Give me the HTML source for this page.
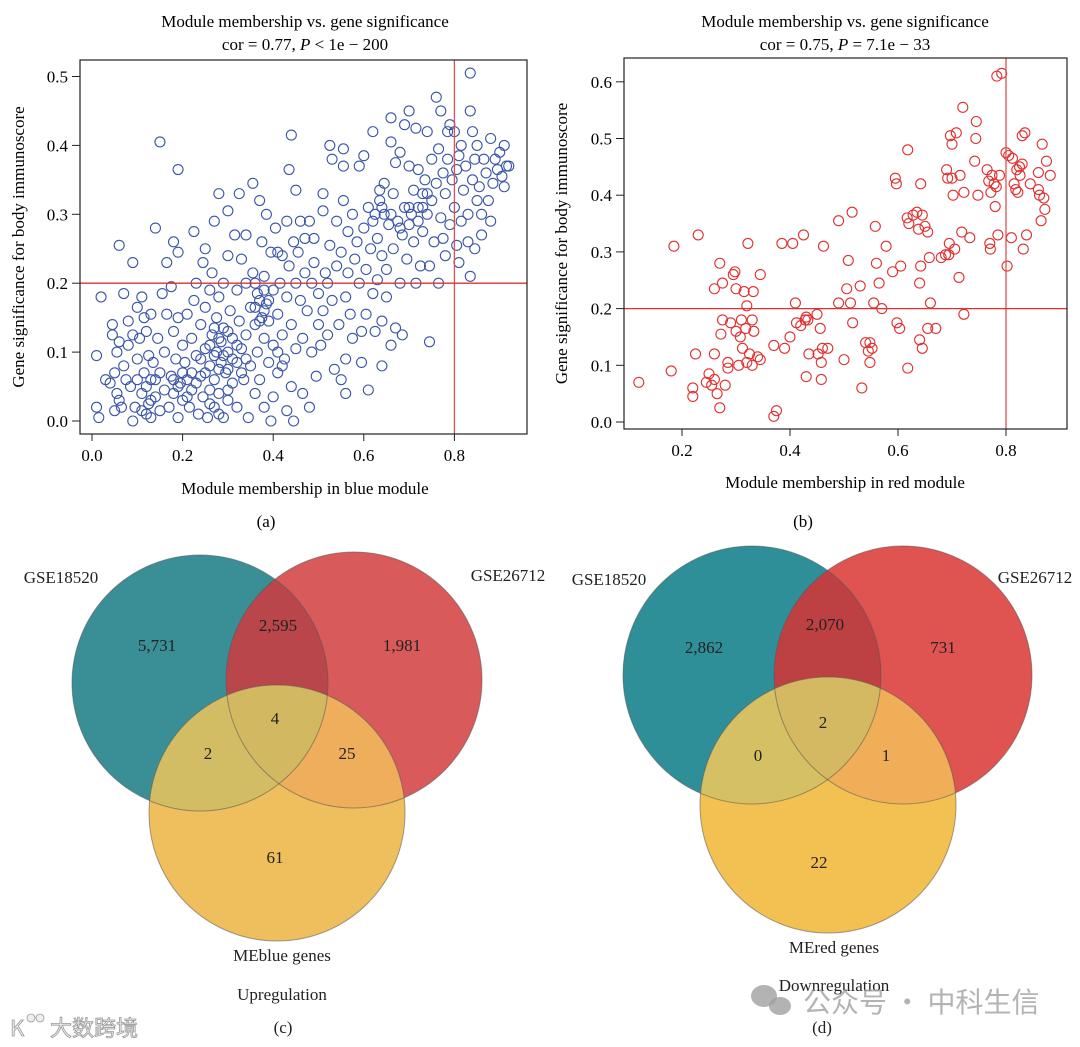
<!DOCTYPE html>
<html><head><meta charset="utf-8">
<style>
html,body{margin:0;padding:0;background:#fff;}
svg{display:block;font-family:"Liberation Serif","Noto Serif CJK SC",serif;}
</style></head>
<body>
<svg id="fig" width="1080" height="1047" viewBox="0 0 1080 1047">
<defs>
<clipPath id="cT"><circle cx="200" cy="683" r="128"/></clipPath>
<clipPath id="cR"><circle cx="354" cy="680" r="128"/></clipPath>
<clipPath id="dT"><circle cx="752" cy="675" r="129"/></clipPath>
<clipPath id="dR"><circle cx="903" cy="675" r="129"/></clipPath>
</defs>
<g id="pa"></g>
<g id="pb"></g>

<text x="266" y="527" font-size="17" text-anchor="middle">(a)</text>
<text x="803" y="527" font-size="17" text-anchor="middle">(b)</text>

<!-- Venn c -->
<g>
<circle cx="200" cy="683" r="128" fill="#3a8f97"/>
<circle cx="354" cy="680" r="128" fill="#d95a5a"/>
<circle cx="354" cy="680" r="128" fill="#b9464a" clip-path="url(#cT)"/>
<circle cx="277" cy="813" r="128" fill="#eebf5c"/>
<circle cx="277" cy="813" r="128" fill="#d3bd64" clip-path="url(#cT)"/>
<g clip-path="url(#cR)"><circle cx="277" cy="813" r="128" fill="#eeae5c"/></g>
<g clip-path="url(#cR)"><circle cx="277" cy="813" r="128" fill="#d3b862" clip-path="url(#cT)"/></g>
<g fill="none" stroke="#555" stroke-opacity="0.55" stroke-width="1">
<circle cx="200" cy="683" r="128"/><circle cx="354" cy="680" r="128"/><circle cx="277" cy="813" r="128"/></g>
<g font-size="17" text-anchor="middle" fill="#222">
<text x="61" y="583">GSE18520</text>
<text x="508" y="581">GSE26712</text>
<text x="157" y="651">5,731</text>
<text x="278" y="631">2,595</text>
<text x="402" y="651">1,981</text>
<text x="275" y="724">4</text>
<text x="208" y="759">2</text>
<text x="347" y="759">25</text>
<text x="275" y="863">61</text>
<text x="282" y="961">MEblue genes</text>
<text x="282" y="1000">Upregulation</text>
<text x="283" y="1033">(c)</text>
</g></g>

<!-- Venn d -->
<g>
<circle cx="752" cy="675" r="129" fill="#2f8f99"/>
<circle cx="903" cy="675" r="129" fill="#df5350"/>
<circle cx="903" cy="675" r="129" fill="#bd4043" clip-path="url(#dT)"/>
<circle cx="828" cy="805" r="128" fill="#f3c152"/>
<circle cx="828" cy="805" r="128" fill="#d5c063" clip-path="url(#dT)"/>
<g clip-path="url(#dR)"><circle cx="828" cy="805" r="128" fill="#f0ae58"/></g>
<g clip-path="url(#dR)"><circle cx="828" cy="805" r="128" fill="#d5b962" clip-path="url(#dT)"/></g>
<g fill="none" stroke="#555" stroke-opacity="0.55" stroke-width="1">
<circle cx="752" cy="675" r="129"/><circle cx="903" cy="675" r="129"/><circle cx="828" cy="805" r="128"/></g>
<g font-size="17" text-anchor="middle" fill="#222">
<text x="609" y="585">GSE18520</text>
<text x="1035" y="583">GSE26712</text>
<text x="704" y="653">2,862</text>
<text x="825" y="630">2,070</text>
<text x="943" y="653">731</text>
<text x="823" y="728">2</text>
<text x="758" y="761">0</text>
<text x="886" y="761">1</text>
<text x="819" y="868">22</text>
<text x="834" y="953">MEred genes</text>
<text x="834" y="991">Downregulation</text>
<text x="822" y="1033">(d)</text>
</g></g>

<!-- watermarks -->
<g fill="#eeeeee" stroke="#9a9a9a" stroke-width="0.8" font-family="'Noto Sans CJK SC',sans-serif">
<text x="10" y="1036" font-size="22">K</text>
<circle cx="31" cy="1018" r="4"/><circle cx="40" cy="1018" r="4"/>
<text x="50" y="1036" font-size="22">大数跨境</text>
</g>
<g fill="#a0a0a0" fill-opacity="0.8" font-family="'Noto Sans CJK SC',sans-serif">
<ellipse cx="764" cy="996" rx="13" ry="11"/><ellipse cx="780" cy="1006" rx="11" ry="9"/>
<text x="803" y="1012" font-size="28">公众号 · 中科生信</text>
</g>
</svg>
<script>
// ---- Panel (a) data: [module membership, gene significance] ----
const blueCategoriesX = [0.0,0.2,0.4,0.6,0.8];
const blueTicksY = [0.0,0.1,0.2,0.3,0.4,0.5];
const bluePoints = [
[0.01,0.095],[0.01,0.02],[0.015,0.005],[0.02,0.18],[0.03,0.06],[0.04,0.055],[0.045,0.14],[0.045,0.125],[0.05,0.07],[0.05,0.015],[0.055,0.04],[0.055,0.1],[0.06,0.255],[0.06,0.03],[0.06,0.115],[0.065,0.02],[0.07,0.185],[0.07,0.08],[0.075,0.06],[0.08,0.145],[0.08,0.11],[0.085,0.05],[0.09,0.23],[0.09,0.125],[0.09,0.0],[0.095,0.02],[0.1,0.165],[0.1,0.09],[0.1,0.06],[0.105,0.12],[0.11,0.18],[0.11,0.04],[0.115,0.15],[0.115,0.07],[0.12,0.01],[0.12,0.13],[0.125,0.095],[0.125,0.025],[0.13,0.155],[0.13,0.06],[0.13,0.005],[0.135,0.085],[0.14,0.28],[0.14,0.035],[0.145,0.12],[0.15,0.405],[0.15,0.07],[0.15,0.015],
[0.155,0.185],[0.16,0.1],[0.16,0.045],[0.165,0.23],[0.165,0.155],[0.17,0.02],[0.175,0.195],[0.175,0.065],[0.18,0.26],[0.18,0.13],[0.18,0.04],[0.185,0.09],[0.19,0.365],[0.19,0.245],[0.19,0.15],[0.19,0.005],[0.195,0.055],[0.2,0.11],[0.2,0.03],[0.205,0.085],[0.21,0.155],[0.21,0.06],[0.215,0.02],[0.22,0.12],[0.22,0.045],[0.225,0.275],[0.225,0.175],[0.23,0.2],[0.23,0.095],[0.235,0.01],[0.24,0.14],[0.24,0.065],[0.245,0.23],[0.245,0.035],[0.25,0.165],[0.25,0.25],[0.25,0.105],[0.255,0.005],[0.26,0.19],[0.26,0.08],[0.26,0.045],[0.265,0.125],[0.265,0.215],[0.27,0.29],[0.27,0.06],[0.27,0.02],[0.275,0.15],[0.275,0.1],[0.28,0.33],[0.28,0.18],[0.28,0.04],[0.285,0.085],[0.285,0.115],[0.29,0.135],[0.29,0.005],[0.29,0.2],[0.295,0.07],[0.3,0.305],[0.3,0.24],[0.3,0.1],[0.3,0.03],
[0.305,0.16],[0.31,0.12],[0.31,0.055],[0.315,0.27],[0.32,0.19],[0.32,0.085],[0.32,0.02],[0.325,0.33],[0.325,0.145],[0.33,0.105],[0.33,0.235],[0.335,0.06],[0.34,0.2],[0.34,0.27],[0.34,0.125],[0.345,0.005],[0.35,0.165],[0.35,0.08],[0.355,0.345],[0.355,0.215],[0.36,0.14],[0.36,0.04],[0.365,0.185],[0.365,0.1],[0.37,0.32],[0.37,0.175],[0.37,0.06],[0.375,0.26],[0.375,0.15],[0.38,0.21],[0.38,0.12],[0.38,0.02],[0.385,0.3],[0.385,0.17],[0.39,0.145],[0.39,0.085],[0.395,0.245],[0.395,0.0],[0.4,0.19],[0.4,0.11],[0.4,0.035],[0.405,0.28],[0.41,0.155],[0.41,0.245],[0.41,0.07],[0.415,0.2],[0.42,0.125],[0.42,0.24],[0.425,0.09],[0.43,0.29],[0.43,0.18],[0.43,0.015],[0.435,0.365],[0.435,0.225],[0.44,0.415],[0.44,0.14],[0.44,0.05],[0.445,0.26],[0.445,0.0],[0.45,0.2],[0.45,0.335],[0.45,0.105],
[0.455,0.245],[0.46,0.175],[0.46,0.29],[0.465,0.12],[0.465,0.04],[0.47,0.215],[0.47,0.265],[0.475,0.16],[0.48,0.29],[0.48,0.02],[0.485,0.2],[0.485,0.1],[0.49,0.265],[0.49,0.23],[0.495,0.065],[0.5,0.14],[0.5,0.185],[0.505,0.11],[0.51,0.305],[0.51,0.33],[0.51,0.16],[0.515,0.215],[0.52,0.2],[0.52,0.125],[0.525,0.255],[0.525,0.4],[0.53,0.38],[0.53,0.175],[0.535,0.075],[0.54,0.225],[0.54,0.29],[0.545,0.14],[0.55,0.06],[0.55,0.245],[0.555,0.32],[0.555,0.37],[0.555,0.395],[0.56,0.18],[0.56,0.09],[0.56,0.04],[0.565,0.215],[0.565,0.275],[0.57,0.155],[0.575,0.3],[0.575,0.12],[0.58,0.235],[0.585,0.26],[0.59,0.2],[0.59,0.37],[0.595,0.085],[0.595,0.13],
[0.6,0.385],[0.6,0.28],[0.605,0.155],[0.605,0.22],[0.61,0.31],[0.61,0.045],[0.615,0.25],[0.62,0.42],[0.62,0.185],[0.625,0.3],[0.625,0.13],[0.63,0.265],[0.63,0.205],[0.635,0.32],[0.635,0.335],[0.64,0.08],[0.64,0.24],[0.64,0.145],[0.645,0.3],[0.645,0.345],[0.65,0.22],[0.65,0.18],[0.655,0.285],[0.66,0.11],[0.66,0.44],[0.66,0.405],[0.665,0.25],[0.665,0.33],[0.67,0.375],[0.67,0.135],[0.675,0.29],[0.68,0.2],[0.68,0.39],[0.685,0.27],[0.685,0.125],[0.69,0.43],[0.69,0.31],[0.695,0.235],[0.7,0.37],[0.7,0.45],[0.7,0.285],[0.705,0.3],[0.71,0.335],[0.71,0.26],[0.715,0.425],[0.715,0.2],[0.72,0.365],[0.72,0.31],[0.725,0.225],[0.73,0.33],[0.73,0.275],[0.735,0.35],[0.74,0.42],[0.74,0.3],[0.745,0.115],[0.745,0.225],
[0.75,0.38],[0.75,0.32],[0.755,0.26],[0.76,0.47],[0.76,0.345],[0.765,0.2],[0.765,0.395],[0.77,0.45],[0.77,0.295],[0.775,0.265],[0.775,0.36],[0.78,0.24],[0.78,0.33],[0.785,0.42],[0.785,0.38],[0.79,0.43],[0.79,0.285],[0.795,0.35],[0.8,0.42],[0.8,0.31],[0.805,0.255],[0.805,0.365],[0.81,0.23],[0.81,0.385],[0.815,0.4],[0.815,0.29],[0.82,0.335],[0.825,0.37],[0.83,0.26],[0.83,0.3],[0.835,0.505],[0.835,0.45],[0.835,0.21],[0.84,0.35],[0.84,0.42],[0.845,0.25],[0.845,0.38],[0.85,0.32],[0.85,0.4],[0.855,0.34],[0.86,0.27],[0.86,0.3],[0.865,0.38],[0.87,0.36],[0.875,0.32],[0.88,0.41],[0.88,0.29],[0.885,0.345],[0.89,0.38],[0.895,0.365],[0.9,0.39],[0.905,0.355],[0.91,0.4],[0.91,0.34],[0.915,0.37],[0.92,0.37],
[0.26,0.11],[0.27,0.095],[0.28,0.075],[0.29,0.095],[0.3,0.075],[0.31,0.09],[0.27,0.135],[0.3,0.13],[0.28,0.12],[0.25,0.07],[0.24,0.09],[0.22,0.07],[0.2,0.07],[0.19,0.05],[0.18,0.06],[0.21,0.035],[0.23,0.055],[0.26,0.025],[0.28,0.01],[0.3,0.045],[0.32,0.11],[0.34,0.09],[0.33,0.07],[0.36,0.165],[0.37,0.145],[0.38,0.16],[0.39,0.175],[0.38,0.19],[0.36,0.2],[0.41,0.1],[0.42,0.08],[0.12,0.05],[0.13,0.03],[0.11,0.015],[0.14,0.06],[0.7,0.31],[0.72,0.29],[0.68,0.28],[0.66,0.3],[0.73,0.31],[0.74,0.33],[0.64,0.31],[0.62,0.29]
];
// ---- Panel (b) data ----
const redTicksX = [0.2,0.4,0.6,0.8];
const redTicksY = [0.0,0.1,0.2,0.3,0.4,0.5,0.6];
const redPoints = [
[0.12,0.07],[0.18,0.09],[0.185,0.31],[0.22,0.06],[0.22,0.045],[0.225,0.12],[0.23,0.33],[0.245,0.07],[0.25,0.085],[0.255,0.065],[0.26,0.12],[0.26,0.075],[0.26,0.235],[0.265,0.05],[0.27,0.025],[0.27,0.28],[0.272,0.155],[0.275,0.18],[0.275,0.245],[0.28,0.065],[0.285,0.095],[0.285,0.105],[0.29,0.175],[0.295,0.26],[0.298,0.265],[0.3,0.235],[0.3,0.16],[0.305,0.1],[0.308,0.15],[0.31,0.18],[0.312,0.13],[0.315,0.23],[0.318,0.165],[0.32,0.205],[0.32,0.105],[0.322,0.315],[0.325,0.12],[0.33,0.1],[0.33,0.18],[0.332,0.23],[0.333,0.16],[0.34,0.115],[0.345,0.26],[0.345,0.11],[0.37,0.135],[0.37,0.01],[0.375,0.02],[0.385,0.315],[0.39,0.13],[0.4,0.15],[0.405,0.315],[0.41,0.21],[0.412,0.175],[0.42,0.17],[0.425,0.33],[0.428,0.18],[0.43,0.185],[0.43,0.08],[0.433,0.18],[0.435,0.12],[0.45,0.19],[0.452,0.12],[0.456,0.165],[0.458,0.105],[0.458,0.075],[0.46,0.13],[0.462,0.31],[0.47,0.13],[0.49,0.355],[0.49,0.21],[0.5,0.11],[0.505,0.235],[0.508,0.285],[0.512,0.21],[0.515,0.37],[0.516,0.175],[0.53,0.24],[0.533,0.06],[0.54,0.14],[0.545,0.125],[0.548,0.14],[0.548,0.105],[0.552,0.13],[0.555,0.21],[0.558,0.345],[0.56,0.28],[0.565,0.245],[0.57,0.2],[0.578,0.31],[0.59,0.265],[0.595,0.43],[0.597,0.42],[0.598,0.175],[0.603,0.165],[0.605,0.275],[0.617,0.36],[0.618,0.48],[0.62,0.35],[0.618,0.095],[0.628,0.365],[0.635,0.37],[0.638,0.34],[0.64,0.145],[0.64,0.245],[0.642,0.275],[0.642,0.42],[0.645,0.13],[0.645,0.365],[0.65,0.345],[0.655,0.335],[0.655,0.165],[0.658,0.29],[0.66,0.21],[0.67,0.165],[0.68,0.29],[0.688,0.295],[0.69,0.445],[0.692,0.43],[0.694,0.295],[0.695,0.315],[0.697,0.505],[0.7,0.49],[0.7,0.43],[0.702,0.4],[0.705,0.305],[0.708,0.51],[0.713,0.255],[0.715,0.435],[0.718,0.335],[0.72,0.555],[0.722,0.405],[0.722,0.19],[0.733,0.325],[0.742,0.46],[0.744,0.5],[0.745,0.53],[0.748,0.4],[0.765,0.445],[0.768,0.425],[0.77,0.315],[0.771,0.305],[0.772,0.405],[0.774,0.435],[0.778,0.42],[0.78,0.38],[0.782,0.415],[0.783,0.61],[0.785,0.33],[0.788,0.435],[0.792,0.615],[0.8,0.475],[0.802,0.275],[0.805,0.47],[0.81,0.325],[0.812,0.465],[0.815,0.42],[0.818,0.41],[0.82,0.445],[0.822,0.405],[0.825,0.45],[0.826,0.435],[0.83,0.455],[0.83,0.505],[0.832,0.305],[0.835,0.51],[0.838,0.33],[0.845,0.42],[0.86,0.44],[0.86,0.41],[0.862,0.4],[0.865,0.355],[0.867,0.49],[0.87,0.395],[0.872,0.375],[0.875,0.46],[0.882,0.435]
];
const thresholdX = 0.8, thresholdY = 0.2;

const NS='http://www.w3.org/2000/svg';
function mk(parent,tag,attrs){const e=document.createElementNS(NS,tag);for(const k in attrs)e.setAttribute(k,attrs[k]);parent.appendChild(e);return e;}

function scatter(g,cfg){
  const sx=v=>cfg.x0px+(v-cfg.x0v)*cfg.xk, sy=v=>cfg.y0px-(v-cfg.y0v)*cfg.yk;
  const t1=mk(g,'text',{x:cfg.cx,y:27,'font-size':17,'text-anchor':'middle'});
  t1.textContent='Module membership vs. gene significance';
  
  
  const t2=mk(g,'text',{x:cfg.cx,y:50,'font-size':17,'text-anchor':'middle'});
  t2.innerHTML=cfg.sub;
  
  
  const pts=mk(g,'g',{fill:'none',stroke:cfg.color,'stroke-width':1.1});
  
  
  cfg.data.forEach(p=>{
    const c=mk(pts,'circle',{cx:sx(p[0]),cy:sy(p[1]),r:5});
    
    
  });
  const vl=mk(g,'line',{x1:sx(thresholdX),x2:sx(thresholdX),y1:cfg.top,y2:cfg.bottom,stroke:'#e05050','stroke-width':1.3});
  
  
  const hl=mk(g,'line',{x1:cfg.left,x2:cfg.right,y1:sy(thresholdY),y2:sy(thresholdY),stroke:'#e03030','stroke-width':1.3});
  
  
  const box=mk(g,'rect',{x:cfg.left,y:cfg.top,width:cfg.right-cfg.left,height:cfg.bottom-cfg.top,fill:'none',stroke:'#222','stroke-width':1.2});
  
  
  cfg.xt.forEach(v=>{
    mk(g,'line',{x1:sx(v),x2:sx(v),y1:cfg.bottom,y2:cfg.bottom+7,stroke:'#222'});
    const t=mk(g,'text',{x:sx(v),y:cfg.bottom+27,'font-size':17,'text-anchor':'middle'});
    t.textContent=v.toFixed(1);
    
    
  });
  cfg.yt.forEach(v=>{
    mk(g,'line',{x1:cfg.left-8,x2:cfg.left,y1:sy(v),y2:sy(v),stroke:'#222'});
    const t=mk(g,'text',{x:cfg.left-12,y:sy(v)+6,'font-size':17,'text-anchor':'end'});
    t.textContent=v.toFixed(1);
    
    
  });
  const xt=mk(g,'text',{x:cfg.cx,y:cfg.xTitleY,'font-size':17,'text-anchor':'middle'});
  xt.textContent=cfg.xTitle;
  
  
  const yt=mk(g,'text',{x:0,y:0,'font-size':17,'text-anchor':'middle',transform:`translate(${cfg.yTitleX},${(cfg.top+cfg.bottom)/2}) rotate(-90)`});
  yt.textContent='Gene significance for body immunoscore';
  
  
}
scatter(document.getElementById('pa'),{data:bluePoints,color:'#3a55a8',x0v:0,x0px:92,xk:453,y0v:0,y0px:421,yk:689,
  left:80,right:527,top:60,bottom:434,cx:305,xt:blueCategoriesX,yt:blueTicksY,xTitleY:494,yTitleX:24,
  xTitle:'Module membership in blue module',sub:'cor = 0.77, <tspan font-style="italic">P</tspan> &lt; 1e − 200'});
scatter(document.getElementById('pb'),{data:redPoints,color:'#e03030',x0v:0.2,x0px:682,xk:540,y0v:0,y0px:422,yk:567,
  left:624,right:1067,top:58,bottom:429,cx:845,xt:redTicksX,yt:redTicksY,xTitleY:488,yTitleX:567,
  xTitle:'Module membership in red module',sub:'cor = 0.75, <tspan font-style="italic">P</tspan> = 7.1e − 33'});
</script>
</body></html>
